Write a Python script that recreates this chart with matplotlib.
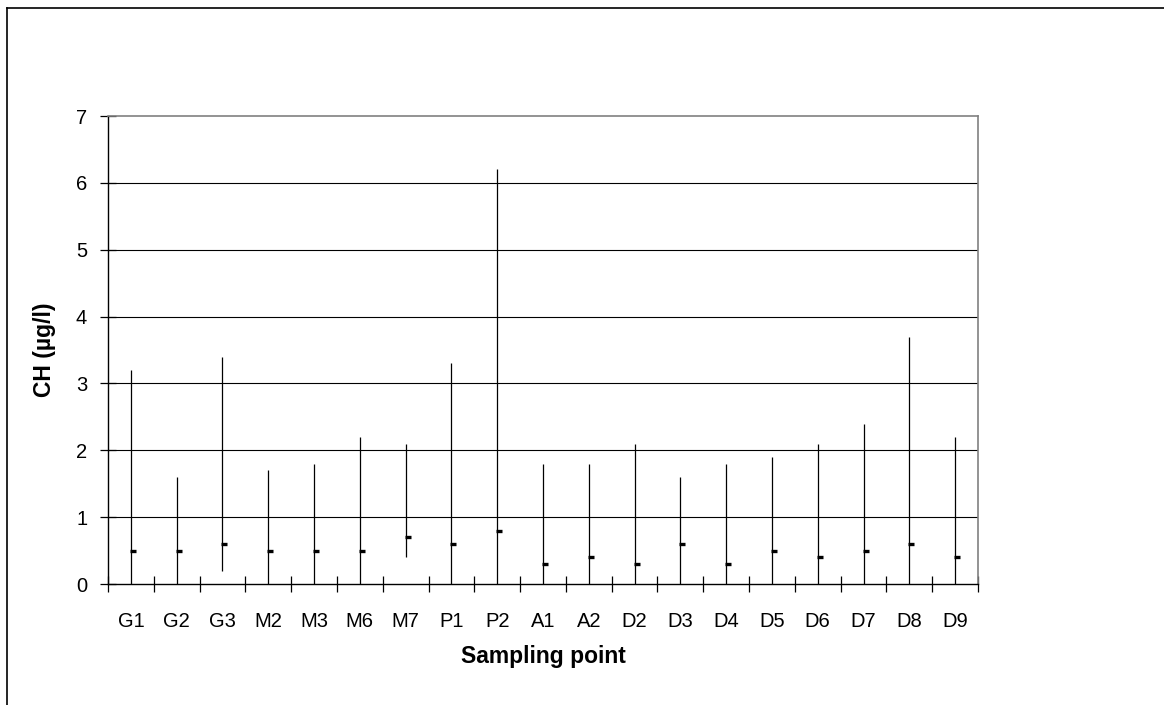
import matplotlib
matplotlib.use("Agg")
import matplotlib.pyplot as plt
import matplotlib.transforms as mtransforms
from matplotlib.lines import Line2D
import numpy as np

categories = ["G1", "G2", "G3", "M2", "M3", "M6", "M7", "P1", "P2", "A1",
              "A2", "D2", "D3", "D4", "D5", "D6", "D7", "D8", "D9"]
high = [3.2, 1.6, 3.4, 1.7, 1.8, 2.2, 2.1, 3.3, 6.2, 1.8,
        1.8, 2.1, 1.6, 1.8, 1.9, 2.1, 2.4, 3.7, 2.2]
low = [0.0, 0.0, 0.2, 0.0, 0.0, 0.0, 0.4, 0.0, 0.0, 0.0,
       0.0, 0.0, 0.0, 0.0, 0.0, 0.0, 0.0, 0.0, 0.0]
mean = [0.5, 0.5, 0.6, 0.5, 0.5, 0.5, 0.7, 0.6, 0.8, 0.3,
        0.4, 0.3, 0.6, 0.3, 0.5, 0.4, 0.5, 0.6, 0.4]
yticks = [0, 1, 2, 3, 4, 5, 6, 7]

plt.rcParams['font.family'] = ['Liberation Sans', 'DejaVu Sans']

W, H = 1164, 705
fig = plt.figure(figsize=(W / 100, H / 100), dpi=100)
ax = fig.add_axes([108 / W, (H - 584) / H, (978 - 108) / W, (584 - 116) / H])

n = len(categories)
x = np.arange(n)
ax.set_xlim(-0.5, n - 0.5)
ax.set_ylim(0, 7)

for yv in yticks[1:-1]:
    ax.axhline(yv, color='black', lw=0.8, zorder=1)

ax.vlines(x, low, high, color='black', lw=0.9, zorder=2)
trans = mtransforms.offset_copy(ax.transData, fig=fig, x=2, y=0, units='dots')
ax.plot(x, mean, linestyle='none', marker='_', ms=4.5, mew=2.4,
        color='black', transform=trans, zorder=3)

ax.set_yticks(yticks)
ax.set_yticklabels([str(v) for v in yticks])
ax.set_xticks(x)
ax.set_xticklabels(categories)
ax.set_xticks(np.arange(-0.5, n, 1.0), minor=True)
ax.tick_params(axis='x', which='major', length=0, pad=20, labelsize=14.5)
ax.tick_params(axis='x', which='minor', direction='inout', length=12, width=0.9)
ax.tick_params(axis='y', direction='inout', length=12, width=0.9, pad=9, labelsize=14.5)

for s in ['top', 'right']:
    ax.spines[s].set_color('#808080')
    ax.spines[s].set_linewidth(1.2)
for s in ['left', 'bottom']:
    ax.spines[s].set_color('black')
    ax.spines[s].set_linewidth(1.0)

fig.text((108 + 978) / 2 / W, 1 - 645 / H, 'Sampling point', fontweight='bold',
         fontsize=16.5, ha='center', va='top')
fig.text(45 / W, 1 - 350 / H, 'CH (µg/l)', fontweight='bold', fontsize=16.5,
         ha='center', va='center', rotation=90)

fig.add_artist(Line2D([7 / W, 1.0], [1 - 8 / H, 1 - 8 / H], transform=fig.transFigure,
                      color='black', lw=1.2))
fig.add_artist(Line2D([7 / W, 7 / W], [0, 1 - 8 / H], transform=fig.transFigure,
                      color='black', lw=1.2))

fig.savefig('out.png', dpi=100)
